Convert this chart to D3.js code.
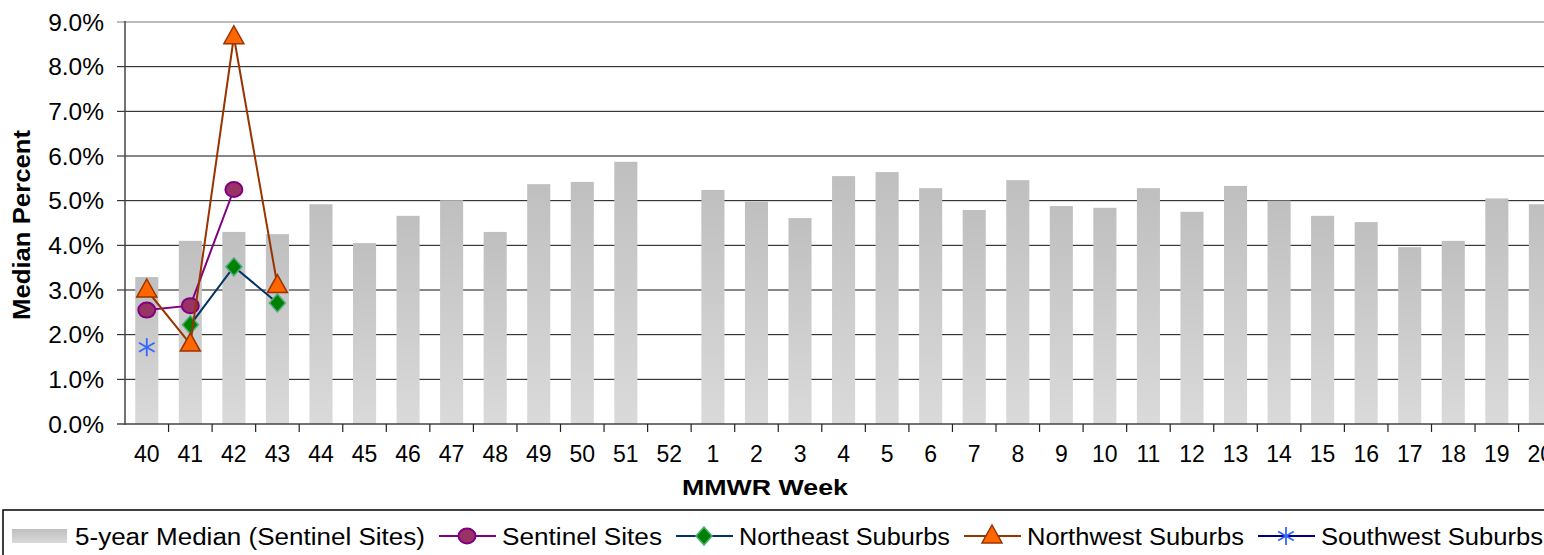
<!DOCTYPE html>
<html>
<head>
<meta charset="utf-8">
<script src="https://cdn.jsdelivr.net/npm/d3@7"></script>
<style>
  body { margin: 0; background: #fff; overflow: hidden; }
  text { font-family: "Liberation Sans", Arial, sans-serif; }
</style>
</head>
<body>
<svg id="chart"></svg>
<script>
// weeks and values
const weeks = ["40","41","42","43","44","45","46","47","48","49","50","51","52",
  "1","2","3","4","5","6","7","8","9","10","11","12","13","14","15","16","17","18","19","20"];
const median5yr = [3.29,4.10,4.30,4.25,4.92,4.05,4.66,5.01,4.30,5.37,5.42,5.87,null,
  5.24,4.98,4.61,5.55,5.64,5.28,4.79,5.46,4.88,4.84,5.28,4.75,5.33,5.00,4.66,4.52,3.96,4.10,5.05,4.92];
const sentinel  = [2.55, 2.65, 5.25];
const northeast = [null, 2.22, 3.52, 2.71];
const northwest = [3.00, 1.79, 8.67, 3.10];
const southwest = [1.72];
const yTicks = [0,1,2,3,4,5,6,7,8,9];

const width = 1544, height = 555;
const plotLeft = 125, plotTop = 22, plotBottom = 424;
const step = 43.55;

const svg = d3.select("#chart").attr("width", width).attr("height", height);

const x = d3.scaleBand()
    .domain(weeks)
    .range([plotLeft, plotLeft + step * weeks.length])
    .paddingInner(0.47)
    .paddingOuter(0.235);
const y = d3.scaleLinear().domain([0, 9]).range([plotBottom, plotTop]);
const cx = w => x(w) + x.bandwidth() / 2;

// bar gradient
const defs = svg.append("defs");
const grad = defs.append("linearGradient").attr("id", "barGrad")
    .attr("x1", 0).attr("y1", 0).attr("x2", 0).attr("y2", 1);
grad.append("stop").attr("offset", "0%").attr("stop-color", "#bfbfbf");
grad.append("stop").attr("offset", "100%").attr("stop-color", "#dadada");

// gridlines
svg.append("g").selectAll("line")
    .data(yTicks.slice(1))
    .enter().append("line")
    .attr("x1", plotLeft - 8).attr("x2", width + 30)
    .attr("y1", d => y(d)).attr("y2", d => y(d))
    .attr("stroke", d => d === 9 ? "#777" : "#111")
    .attr("stroke-width", 1);

// bars
svg.append("g").selectAll("rect")
    .data(weeks.map((w, i) => ({ w, v: median5yr[i] })).filter(d => d.v != null))
    .enter().append("rect")
    .attr("x", d => x(d.w))
    .attr("width", x.bandwidth())
    .attr("y", d => y(d.v))
    .attr("height", d => y(0) - y(d.v))
    .attr("fill", "url(#barGrad)");

// axes
svg.append("line").attr("x1", plotLeft).attr("x2", plotLeft).attr("y1", plotTop - 1).attr("y2", plotBottom + 1)
    .attr("stroke", "#444").attr("stroke-width", 1.5);
svg.append("line").attr("x1", plotLeft - 8).attr("x2", width + 30).attr("y1", plotBottom).attr("y2", plotBottom)
    .attr("stroke", "#444").attr("stroke-width", 1.5);

// x ticks at category boundaries
svg.append("g").selectAll("line")
    .data(weeks.slice(1))
    .enter().append("line")
    .attr("x1", d => x(d) - x.step() * 0.235).attr("x2", d => x(d) - x.step() * 0.235)
    .attr("y1", plotBottom).attr("y2", plotBottom + 8)
    .attr("stroke", "#222").attr("stroke-width", 1.2);

svg.append("g").selectAll("text")
    .data(weeks)
    .enter().append("text")
    .attr("x", d => cx(d))
    .attr("y", 462)
    .attr("text-anchor", "middle")
    .attr("font-size", 23)
    .text(d => d);

svg.append("g").selectAll("text")
    .data(yTicks)
    .enter().append("text")
    .attr("x", 104)
    .attr("y", d => y(d) + 8.5)
    .attr("text-anchor", "end")
    .attr("font-size", 24.5)
    .text(d => d.toFixed(1) + "%");

// titles
svg.append("text")
    .attr("transform", "translate(30,225) rotate(-90)")
    .attr("text-anchor", "middle")
    .attr("font-size", 24).attr("font-weight", "bold")
    .attr("textLength", 190).attr("lengthAdjust", "spacingAndGlyphs")
    .text("Median Percent");
svg.append("text")
    .attr("x", 765).attr("y", 495)
    .attr("text-anchor", "middle")
    .attr("font-size", 22).attr("font-weight", "bold")
    .attr("textLength", 166).attr("lengthAdjust", "spacingAndGlyphs")
    .text("MMWR Week");

// markers
function marker(g, type, px, py) {
    if (type === "circle") {
        g.append("ellipse").attr("cx", px).attr("cy", py).attr("rx", 8.5).attr("ry", 7.5)
            .attr("fill", "#993366").attr("stroke", "#800080").attr("stroke-width", 2);
    } else if (type === "diamond") {
        g.append("path").attr("d", `M${px},${py - 9}L${px + 8},${py}L${px},${py + 9}L${px - 8},${py}Z`)
            .attr("fill", "#008000").attr("stroke", "#4daf7c").attr("stroke-width", 1.5);
    } else if (type === "triangle") {
        g.append("path").attr("d", `M${px},${py - 11}L${px + 10},${py + 7}L${px - 10},${py + 7}Z`)
            .attr("fill", "#ff6600").attr("stroke", "#993300").attr("stroke-width", 1.5);
    } else if (type === "star") {
        [0, 60, 120].forEach(a => {
            const r = Math.PI * a / 180, s = 9;
            g.append("line")
                .attr("x1", px - s * Math.sin(r)).attr("y1", py - s * Math.cos(r))
                .attr("x2", px + s * Math.sin(r)).attr("y2", py + s * Math.cos(r))
                .attr("stroke", "#3366ff").attr("stroke-width", 1.8);
        });
    }
}

const series = [
    { name: "Sentinel Sites", values: sentinel, line: "#800080", mark: "circle" },
    { name: "Northeast Suburbs", values: northeast, line: "#003366", mark: "diamond" },
    { name: "Northwest Suburbs", values: northwest, line: "#993300", mark: "triangle" },
    { name: "Southwest Suburbs", values: southwest, line: "#000080", mark: "star" }
];

const lineGen = d3.line()
    .defined(d => d.v != null)
    .x(d => cx(d.w))
    .y(d => y(d.v));

series.forEach(s => {
    const pts = s.values.map((v, i) => ({ w: weeks[i], v }));
    const g = svg.append("g");
    g.append("path").attr("d", lineGen(pts)).attr("fill", "none")
        .attr("stroke", s.line).attr("stroke-width", 2);
    pts.filter(d => d.v != null).forEach(d => marker(g, s.mark, cx(d.w), y(d.v)));
});

// legend
svg.append("rect").attr("x", 3).attr("y", 510).attr("width", 1600).attr("height", 80)
    .attr("fill", "none").attr("stroke", "#000").attr("stroke-width", 1.5);

const legendItems = [
    { name: "5-year Median (Sentinel Sites)", len: 350 },
    { name: "Sentinel Sites", len: 160, s: series[0] },
    { name: "Northeast Suburbs", len: 211, s: series[1] },
    { name: "Northwest Suburbs", len: 217, s: series[2] },
    { name: "Southwest Suburbs", len: 222, s: series[3] }
];
const lg = svg.append("g");
const ly = 536;
let lx = 12;
legendItems.forEach(it => {
    if (!it.s) {
        lg.append("rect").attr("x", lx).attr("y", ly - 7).attr("width", 55).attr("height", 14)
            .attr("fill", "url(#barGrad)");
        lx += 63;
    } else {
        lg.append("line").attr("x1", lx).attr("x2", lx + 57).attr("y1", ly).attr("y2", ly)
            .attr("stroke", it.s.line).attr("stroke-width", 2);
        marker(lg, it.s.mark, lx + 28, ly);
        lx += 63;
    }
    lg.append("text").attr("x", lx).attr("y", ly + 8.5)
        .attr("font-size", 23)
        .attr("textLength", it.len).attr("lengthAdjust", "spacingAndGlyphs")
        .text(it.name);
    lx += it.len + 14;
});
</script>
</body>
</html>
